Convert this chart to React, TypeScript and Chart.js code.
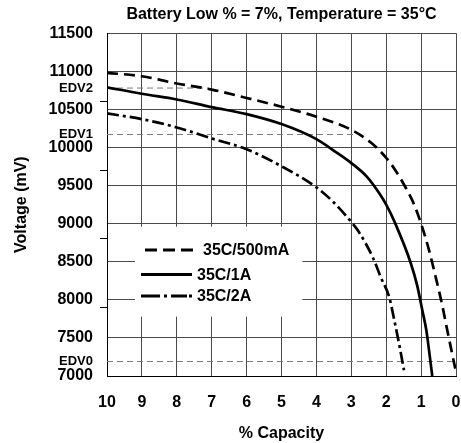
import React, { useEffect, useRef } from 'react';
import { Chart, registerables } from 'chart.js';

Chart.register(...registerables);

const FONT = '"Liberation Sans", Arial, Helvetica, sans-serif';

const titleText = 'Battery Low % = 7%, Temperature = 35°C';
const xTitle = '% Capacity';
const yTitle = 'Voltage (mV)';

const seriesLabels = ['35C/500mA', '35C/1A', '35C/2A'];

const cap500mA = [10, 9, 8, 7, 6, 5, 4, 3, 2.44, 2, 1.71, 1.42, 1.22, 1, 0.78, 0.59, 0.4, 0.26, 0.11, 0.02];
const volt500mA = [10980, 10935, 10840, 10760, 10650, 10535, 10404, 10232, 10065, 9864, 9682, 9455, 9273, 9000, 8664, 8313, 7941, 7623, 7291, 7096];

const cap1A = [10, 9, 8, 7, 6, 5, 4, 3.42, 3, 2.55, 2.18, 2, 1.76, 1.3, 1.11, 0.97, 0.85, 0.76, 0.68];
const volt1A = [10790, 10705, 10630, 10530, 10438, 10307, 10109, 9932, 9795, 9614, 9386, 9250, 9023, 8487, 8183, 7873, 7600, 7291, 7000];

const cap2A = [10, 9, 8, 7, 6, 5, 4, 3.54, 3, 2.81, 2.38, 2.15, 1.91, 1.77, 1.63, 1.49];
const volt2A = [10447, 10372, 10263, 10118, 9977, 9753, 9477, 9295, 9022, 8910, 8553, 8291, 8030, 7736, 7422, 7074];

const edvLabels = ['EDV2', 'EDV1', 'EDV0'];
const edvVoltages = [10780, 10170, 7190];
const edvEndCapacity = [7.1, 2.95, 0];

const majorVoltTicks = [7000, 7500, 8000, 8500, 9000, 9500, 10000, 10500, 11000, 11500];
const minorVoltTicks = [7900, 8800, 9700, 10600];
const capacityTicks = [10, 9, 8, 7, 6, 5, 4, 3, 2, 1, 0];

const toPoints = (xs: number[], ys: number[]) => xs.map((x, i) => ({ x, y: ys[i] }));

const seriesDash = [[11, 6], [] as number[], [12, 4, 3, 4]];
const legendDash = [[12, 6], [] as number[], [19, 4, 3, 4, 16, 2, 3, 2, 3]];

const legendPlugin = {
  id: 'boxLegend',
  beforeDatasetsDraw(chart: any) {
    const { ctx, scales } = chart;
    const xs = scales.x;
    const ys = scales.y;
    ctx.save();
    const bx1 = xs.getPixelForValue(9.2);
    const bx2 = xs.getPixelForValue(4.4);
    const by1 = ys.getPixelForValue(8960);
    const by2 = ys.getPixelForValue(7780);
    ctx.fillStyle = '#ffffff';
    ctx.fillRect(bx1, by1, bx2 - bx1, by2 - by1);
    const rowsY = [250, 274.5, 296];
    const sampleStart = [145, 141, 141];
    const sampleEnd = [193, 192, 192];
    const textX = [203, 197, 197];
    for (let i = 0; i < 3; i++) {
      const ds = chart.data.datasets[i];
      ctx.beginPath();
      ctx.strokeStyle = '#000';
      ctx.lineWidth = 2.8;
      ctx.setLineDash(legendDash[i]);
      ctx.moveTo(sampleStart[i], rowsY[i]);
      ctx.lineTo(sampleEnd[i], rowsY[i]);
      ctx.stroke();
      ctx.setLineDash([]);
      ctx.fillStyle = '#000';
      ctx.font = `bold 16px ${FONT}`;
      ctx.textAlign = 'left';
      ctx.textBaseline = 'middle';
      ctx.fillText(ds.label, textX[i], rowsY[i] + 1);
    }
    ctx.restore();
  },
};

export default function App() {
  const ref = useRef<HTMLCanvasElement | null>(null);
  useEffect(() => {
    if (!ref.current) return;
    const seriesData = [toPoints(cap500mA, volt500mA), toPoints(cap1A, volt1A), toPoints(cap2A, volt2A)];
    const datasets: any[] = seriesLabels.map((label, i) => ({
      label,
      data: seriesData[i],
      borderColor: '#000',
      borderWidth: 2.7,
      borderDash: seriesDash[i],
      pointRadius: 0,
      fill: false,
      cubicInterpolationMode: 'monotone',
    }));
    edvLabels.forEach((label, i) => {
      datasets.push({
        label,
        data: [
          { x: 10, y: edvVoltages[i] },
          { x: edvEndCapacity[i], y: edvVoltages[i] },
        ],
        borderColor: '#7a7a7a',
        borderWidth: 1,
        borderDash: [6, 4],
        pointRadius: 0,
        fill: false,
      });
    });

    const isEdv = (v: number) => edvVoltages.includes(v);
    const isMinor = (v: number) => minorVoltTicks.includes(v);

    const chart = new Chart(ref.current, {
      type: 'line',
      data: { datasets },
      plugins: [legendPlugin],
      options: {
        animation: false,
        responsive: false,
        maintainAspectRatio: false,
        devicePixelRatio: 1,
        layout: { padding: { left: 0, right: 5, top: 0, bottom: 0 } },
        plugins: {
          legend: { display: false },
          tooltip: { enabled: false },
          title: {
            display: true,
            text: titleText,
            fullSize: false,
            color: '#000',
            font: { family: FONT, size: 16, weight: 'bold' },
            padding: { top: 5, bottom: 9 },
          },
        },
        scales: {
          x: {
            type: 'linear',
            reverse: true,
            min: 0,
            max: 10,
            afterBuildTicks: (scale: any) => {
              scale.ticks = capacityTicks.map((v) => ({ value: v }));
            },
            afterFit: (scale: any) => {
              scale.height = 67;
            },
            grid: { color: '#4a4a4a', lineWidth: 1, drawTicks: true, tickLength: 17, tickColor: 'rgba(0,0,0,0)' },
            border: { color: '#000', width: 1 },
            ticks: {
              color: '#000',
              padding: 0,
              autoSkip: false,
              maxRotation: 0,
              font: { family: FONT, size: 16, weight: 'bold' },
              callback: (v: any) => String(v),
            },
            title: {
              display: true,
              text: xTitle,
              color: '#000',
              font: { family: FONT, size: 16, weight: 'bold' },
              padding: { top: 0, bottom: 0 },
            },
          },
          y: {
            type: 'linear',
            min: 7000,
            max: 11500,
            afterBuildTicks: (scale: any) => {
              const vals = [...majorVoltTicks, ...edvVoltages, ...minorVoltTicks].sort((a, b) => a - b);
              scale.ticks = vals.map((v) => ({ value: v }));
            },
            afterFit: (scale: any) => {
              scale.width = 107;
            },
            grid: {
              color: (c: any) => (c.tick && majorVoltTicks.includes(c.tick.value) ? '#4a4a4a' : 'rgba(0,0,0,0)'),
              tickColor: (c: any) => (c.tick && isMinor(c.tick.value) ? '#000' : 'rgba(0,0,0,0)'),
              lineWidth: 1,
              drawTicks: true,
              tickLength: 7,
            },
            border: { color: '#000', width: 1 },
            ticks: {
              color: '#000',
              padding: 7,
              autoSkip: false,
              font: (c: any) => ({
                family: FONT,
                size: c.tick && isEdv(c.tick.value) ? 13 : 16,
                weight: 'bold',
              }),
              callback: (v: any) => {
                const i = edvVoltages.indexOf(v);
                if (i >= 0) return edvLabels[i];
                if (isMinor(v)) return '';
                return String(v);
              },
            },
            title: {
              display: true,
              text: yTitle,
              color: '#000',
              font: { family: FONT, size: 16, weight: 'bold' },
              padding: { top: 12, bottom: 0 },
            },
          },
        },
      } as any,
    });
    return () => chart.destroy();
  }, []);

  return (
    <div style={{ position: 'absolute', left: 0, top: 0, width: 461, height: 443, background: '#fff' }}>
      <canvas ref={ref} width={461} height={443} style={{ display: 'block' }} />
    </div>
  );
}
